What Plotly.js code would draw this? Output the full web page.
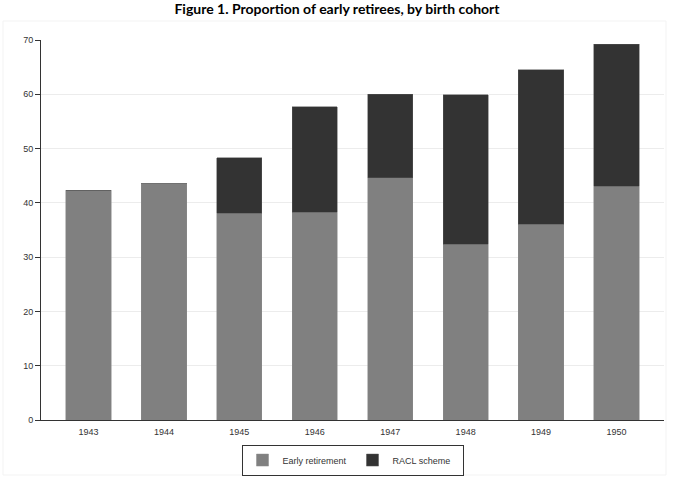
<!DOCTYPE html>
<html>
<head>
<meta charset="utf-8">
<script src="https://cdn.plot.ly/plotly-3.0.1.min.js"></script>
<style>
  html, body { margin: 0; padding: 0; background: #ffffff; }
  #chart { width: 674px; height: 477px; }
</style>
</head>
<body>
<div id="chart"></div>
<script>
// Birth cohorts on the x axis
const cohorts = ['1943', '1944', '1945', '1946', '1947', '1948', '1949', '1950'];
// Share (%) retiring early through the regular early-retirement route
const earlyRetirement = [42.3, 43.5, 38.1, 38.3, 44.6, 32.4, 36.1, 43.1];
// Additional share (%) retiring through the RACL scheme (stacked on top)
const raclScheme = [0, 0, 10.2, 19.4, 15.4, 27.5, 28.4, 26.1];
// Y axis ticks
const yTicks = [0, 10, 20, 30, 40, 50, 60, 70];

const traces = [
  {
    type: 'bar',
    name: 'Early retirement',
    x: cohorts,
    y: earlyRetirement,
    marker: { color: '#808080', line: { color: '#8a8a8a', width: 0.5 } },
    hoverinfo: 'x+y+name'
  },
  {
    type: 'bar',
    name: 'RACL scheme',
    x: cohorts,
    y: raclScheme,
    marker: { color: '#333333', line: { color: '#555555', width: 0.5 } },
    hoverinfo: 'x+y+name'
  }
];

const layout = {
  width: 674,
  height: 477,
  barmode: 'stack',
  bargap: 0.4,
  paper_bgcolor: '#ffffff',
  plot_bgcolor: '#ffffff',
  margin: { l: 41, r: 10, t: 40, b: 57, autoexpand: false },
  font: { family: 'Liberation Sans, Arial, sans-serif', size: 9, color: '#333333' },
  title: {
    text: '<b>Figure 1. Proportion of early retirees, by birth cohort</b>',
    font: { family: 'Lato, Open Sans, sans-serif', size: 14, color: '#000000' },
    x: 0.5,
    xanchor: 'center',
    y: 0.981,
    yanchor: 'middle'
  },
  xaxis: {
    type: 'category',
    range: [-0.63, 7.63],
    showline: true,
    linecolor: '#333333',
    linewidth: 1,
    ticks: '',
    ticklabelstandoff: 3,
    showgrid: false,
    zeroline: false,
    tickfont: { size: 9, color: '#333333' }
  },
  yaxis: {
    range: [0, 70],
    tickvals: yTicks,
    ticktext: yTicks.map(String),
    showline: true,
    linecolor: '#333333',
    linewidth: 1,
    ticks: 'outside',
    ticklen: 5,
    tickcolor: '#333333',
    showgrid: true,
    gridcolor: '#ececec',
    gridwidth: 1,
    zeroline: false,
    tickfont: { size: 9, color: '#333333' }
  },
  // faint frame around the graph region
  shapes: [
    {
      type: 'rect',
      xref: 'paper', yref: 'paper',
      x0: -0.061, x1: 1.0032,
      y0: -0.1447, y1: 1.05,
      line: { color: '#f3f3f3', width: 1 },
      fillcolor: 'rgba(0,0,0,0)',
      layer: 'below'
    }
  ],
  showlegend: true,
  legend: {
    orientation: 'h',
    xref: 'paper',
    x: 0.5,
    xanchor: 'center',
    yref: 'container',
    y: 0.068,
    yanchor: 'top',
    bordercolor: '#333333',
    borderwidth: 1,
    bgcolor: '#ffffff',
    font: { size: 9, color: '#333333' },
    entrywidth: 65,
    traceorder: 'normal'
  }
};

Plotly.newPlot('chart', traces, layout, { displayModeBar: false, staticPlot: true });
</script>
</body>
</html>
